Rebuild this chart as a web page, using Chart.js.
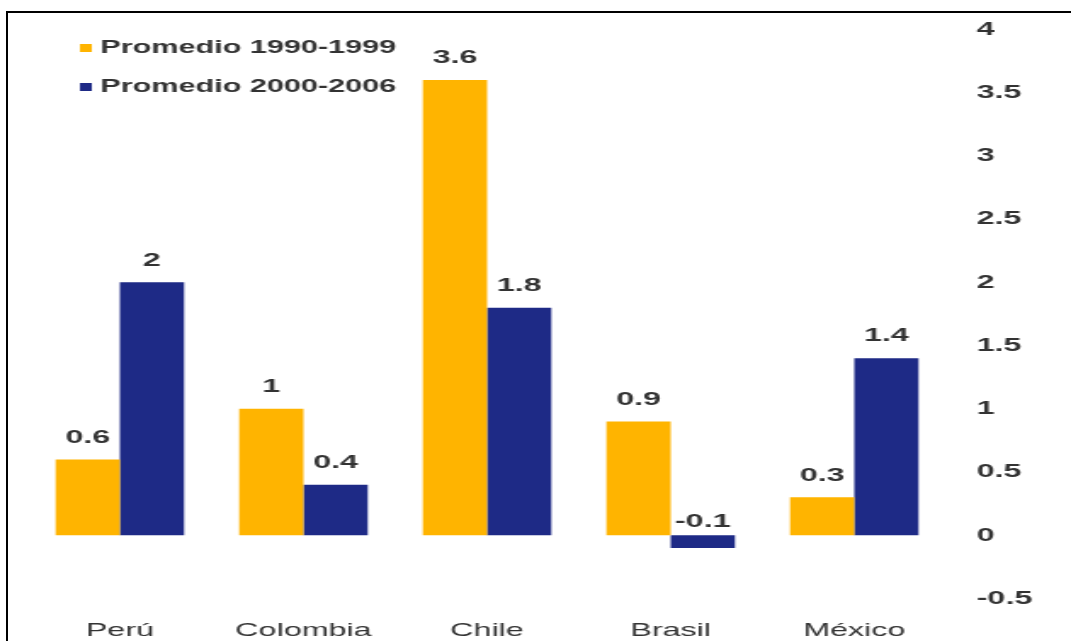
<!DOCTYPE html>
<html>
<head>
  <meta charset="utf-8">
  <title>Promedios 1990-1999 vs 2000-2006</title>
  <script src="https://cdn.jsdelivr.net/npm/chart.js"></script>
  <style>
    html, body { margin: 0; padding: 0; background: #fff; overflow: hidden; }
    #wrap { position: relative; width: 1071px; height: 641px; }
    /* the chart is drawn narrow and stretched sideways */
    #chart { position: absolute; left: 0; top: 0; transform: scaleX(1.7); transform-origin: 0 0; }
    #frame { position: absolute; left: 6px; top: 11px; width: 1100px; height: 700px;
             border-left: 2px solid #000; border-top: 2px solid #000; }
  </style>
</head>
<body>
  <div id="wrap">
    <canvas id="chart" width="630" height="641"></canvas>
    <div id="frame"></div>
  </div>

  <script>
    // Countries and the two period averages
    var categories = ['Perú', 'Colombia', 'Chile', 'Brasil', 'México'];
    var avg1990s = [0.6, 1, 3.6, 0.9, 0.3];
    var avg2000s = [2, 0.4, 1.8, -0.1, 1.4];
    var seriesNames = ['Promedio 1990-1999', 'Promedio 2000-2006'];

    var orange = '#FFB400';
    var navy = '#1E2A86';
    var textColor = '#333333';
    var fontFamily = '"Liberation Sans", Arial, sans-serif';

    function fmt(v) {
      return String(Math.round(v * 10) / 10);
    }

    // value labels, drawn right after each dataset so the next one may cover them
    var valueLabels = {
      id: 'valueLabels',
      afterDatasetDraw: function(chart, args) {
        var ctx = chart.ctx;
        var y = chart.scales.y;
        var data = chart.data.datasets[args.index].data;
        ctx.save();
        ctx.font = 'bold 19px ' + fontFamily;
        ctx.fillStyle = textColor;
        ctx.textAlign = 'center';
        ctx.textBaseline = 'middle';
        args.meta.data.forEach(function(bar, i) {
          var v = data[i];
          var py = v >= 0 ? y.getPixelForValue(v) - 22 : y.getPixelForValue(0) - 14;
          ctx.fillText(fmt(v), bar.x, py);
        });
        ctx.restore();
      }
    };

    // small square legend in the upper left corner
    var cornerLegend = {
      id: 'cornerLegend',
      afterDraw: function(chart) {
        var ctx = chart.ctx;
        var rows = [48, 87];
        ctx.save();
        ctx.font = 'bold 18px ' + fontFamily;
        ctx.textBaseline = 'middle';
        ctx.textAlign = 'left';
        chart.data.datasets.forEach(function(ds, i) {
          ctx.fillStyle = ds.backgroundColor;
          ctx.fillRect(47, rows[i] - 4, 7, 8);
          ctx.fillStyle = textColor;
          ctx.fillText(ds.label, 59, rows[i]);
        });
        ctx.restore();
      }
    };

    var ctx = document.getElementById('chart').getContext('2d');
    var chart = new Chart(ctx, {
      type: 'bar',
      data: {
        labels: categories,
        datasets: [
          { label: seriesNames[0], data: avg1990s, backgroundColor: orange },
          { label: seriesNames[1], data: avg2000s, backgroundColor: navy }
        ]
      },
      options: {
        responsive: false,
        animation: false,
        layout: { padding: { left: 16.5, top: 27, right: 0, bottom: 0 } },
        datasets: {
          bar: { categoryPercentage: 0.7, barPercentage: 1.0 }
        },
        plugins: {
          legend: { display: false },
          tooltip: { enabled: false }
        },
        scales: {
          x: {
            grid: { display: false, drawTicks: false },
            border: { display: false },
            ticks: {
              color: textColor,
              padding: 21,
              font: { family: fontFamily, size: 19 }
            },
            afterFit: function(s) { s.height = 42.5; }
          },
          y: {
            position: 'right',
            min: -0.5,
            max: 4,
            grid: { display: false, drawTicks: false },
            border: { display: false },
            ticks: {
              stepSize: 0.5,
              color: textColor,
              padding: 18,
              font: { family: fontFamily, size: 19, weight: 'bold' },
              callback: function(v) { return fmt(v); }
            },
            afterFit: function(s) { s.width = 73.5; }
          }
        }
      },
      plugins: [valueLabels, cornerLegend]
    });
  </script>
</body>
</html>
